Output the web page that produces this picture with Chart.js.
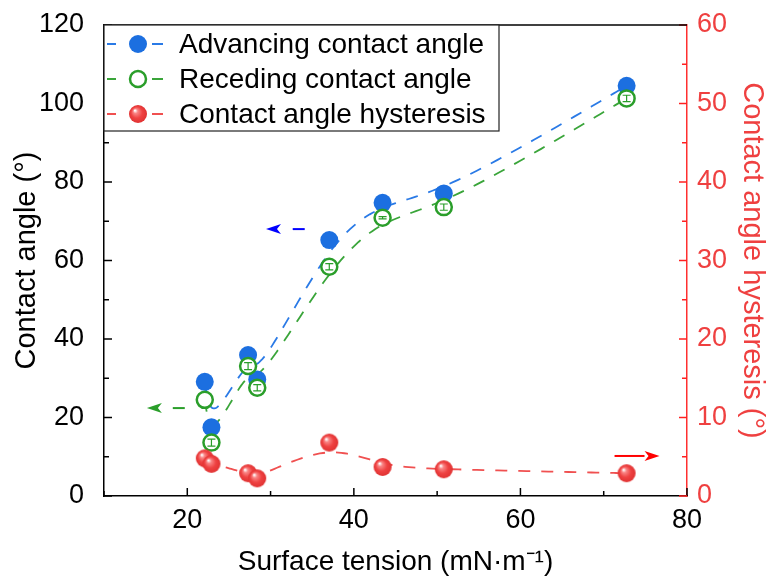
<!DOCTYPE html>
<html>
<head>
<meta charset="utf-8">
<script src="https://cdn.jsdelivr.net/npm/chart.js@4.4.1/dist/chart.umd.min.js"></script>
<style>
  html, body { margin: 0; padding: 0; background: #fff; }
  #wrap { width: 768px; height: 578px; }
</style>
</head>
<body>
<div id="wrap"><canvas id="chart"></canvas></div>
<script>
// surface tension of each liquid (mN/m), sorted ascending
const tension = [22.1, 22.9, 27.3, 28.4, 37.05, 43.45, 50.8, 72.75];
const advancing = [29.1, 17.5, 35.9, 29.7, 65.2, 74.7, 77.1, 104.5];
const receding = [24.5, 13.6, 33.1, 27.6, 58.4, 70.9, 73.6, 101.3];
const recedingErr = [0, 0.9, 0.9, 0.8, 0.8, 0.3, 0.8, 0.8];
const hysteresis = [4.8, 4.1, 2.9, 2.25, 6.8, 3.7, 3.4, 2.9];

const seriesNames = ['Advancing contact angle', 'Receding contact angle', 'Contact angle hysteresis'];

// axis pointers: [xTail, yTail, xTip, yTip] in data units
const arrowAdv = [34.1, 68, 29.45, 68];
const arrowRec = [19.7, 22.4, 15.15, 22.4];
const arrowHys = [71.3, 5.1, 76.7, 5.1];

const FONT = "'Liberation Sans', Arial, sans-serif";
const BLUE = '#1c6fe0';
const GREEN = '#2a9e2a';
const RED = '#ef4040';

function sphere(r) {
  const c = document.createElement('canvas');
  const s = Math.ceil(r * 2 + 2);
  c.width = c.height = s;
  const g = c.getContext('2d');
  const cx = s / 2, cy = s / 2;
  const grad = g.createRadialGradient(cx - r * 0.35, cy - r * 0.4, r * 0.05, cx, cy, r);
  grad.addColorStop(0, '#ffffff');
  grad.addColorStop(0.22, '#f98484');
  grad.addColorStop(0.6, '#ef4242');
  grad.addColorStop(1, '#e03232');
  g.fillStyle = grad;
  g.beginPath();
  g.arc(cx, cy, r, 0, Math.PI * 2);
  g.fill();
  return c;
}
const ball = sphere(9);

const pts = (ys) => tension.map((x, i) => ({ x, y: ys[i] }));

// clamped uniform cubic B-spline through the control points
function bspline(ctx, p, steps) {
  const last = p[p.length - 1];
  const q = [p[0], p[0], ...p, last, last];
  ctx.beginPath();
  ctx.moveTo(p[0].x, p[0].y);
  for (let i = 0; i + 3 < q.length; i++) {
    const a = q[i], b = q[i + 1], c = q[i + 2], d = q[i + 3];
    for (let s = 1; s <= steps; s++) {
      const t = s / steps, t2 = t * t, t3 = t2 * t;
      const b0 = Math.pow(1 - t, 3) / 6;
      const b1 = (3 * t3 - 6 * t2 + 4) / 6;
      const b2 = (-3 * t3 + 3 * t2 + 3 * t + 1) / 6;
      const b3 = t3 / 6;
      ctx.lineTo(b0 * a.x + b1 * b.x + b2 * c.x + b3 * d.x, b0 * a.y + b1 * b.y + b2 * c.y + b3 * d.y);
    }
  }
  ctx.stroke();
}

const splineLines = {
  id: 'splineLines',
  beforeDatasetsDraw(chart) {
    const ctx = chart.ctx;
    ctx.save();
    chart.data.datasets.forEach((ds, i) => {
      const meta = chart.getDatasetMeta(i);
      ctx.strokeStyle = ds.lineColor;
      ctx.lineWidth = 1.8;
      ctx.setLineDash([12, 11]);
      bspline(ctx, meta.data.map((e) => ({ x: e.x, y: e.y })), 20);
    });
    ctx.restore();
  }
};

function arrow(ctx, chart, a, yId, color, dashed) {
  const xs = chart.scales.x, ys = chart.scales[yId];
  const x0 = xs.getPixelForValue(a[0]), y0 = ys.getPixelForValue(a[1]);
  const x1 = xs.getPixelForValue(a[2]), y1 = ys.getPixelForValue(a[3]);
  const dir = Math.sign(x1 - x0);
  const head = 15;
  ctx.save();
  ctx.strokeStyle = color;
  ctx.fillStyle = color;
  ctx.lineWidth = 2;
  ctx.setLineDash(dashed ? [12, 12] : []);
  ctx.beginPath();
  ctx.moveTo(x0, y0);
  ctx.lineTo(x1 - dir * head, y1);
  ctx.stroke();
  ctx.setLineDash([]);
  ctx.beginPath();
  ctx.moveTo(x1, y1);
  ctx.lineTo(x1 - dir * head, y1 - 5);
  ctx.lineTo(x1 - dir * (head - 4), y1);
  ctx.lineTo(x1 - dir * head, y1 + 5);
  ctx.closePath();
  ctx.fill();
  ctx.restore();
}

const decorations = {
  id: 'decorations',
  afterDatasetsDraw(chart) {
    const ctx = chart.ctx;
    const { left, right, top, bottom } = chart.chartArea;

    // error bars on the receding points
    const yS = chart.scales.y;
    const meta = chart.getDatasetMeta(1);
    ctx.save();
    ctx.strokeStyle = GREEN;
    ctx.lineWidth = 1.2;
    meta.data.forEach((e, i) => {
      const err = recedingErr[i];
      if (!err) return;
      const ya = yS.getPixelForValue(receding[i] + err);
      const yb = yS.getPixelForValue(receding[i] - err);
      ctx.beginPath();
      ctx.moveTo(e.x, ya); ctx.lineTo(e.x, yb);
      ctx.moveTo(e.x - 4, ya); ctx.lineTo(e.x + 4, ya);
      ctx.moveTo(e.x - 4, yb); ctx.lineTo(e.x + 4, yb);
      ctx.stroke();
    });
    ctx.restore();

    arrow(ctx, chart, arrowAdv, 'y', '#0000ff', true);
    arrow(ctx, chart, arrowRec, 'y', GREEN, true);
    arrow(ctx, chart, arrowHys, 'y1', '#ff0000', false);

    // inward tick marks
    ctx.save();
    ctx.lineWidth = 1.5;
    ctx.strokeStyle = '#000';
    chart.scales.x.ticks.forEach((t) => {
      const px = chart.scales.x.getPixelForValue(t.value);
      const len = t.value % 20 === 0 ? 8 : 5;
      ctx.beginPath(); ctx.moveTo(px, bottom); ctx.lineTo(px, bottom - len); ctx.stroke();
    });
    chart.scales.y.ticks.forEach((t) => {
      const py = chart.scales.y.getPixelForValue(t.value);
      const len = t.value % 20 === 0 ? 8 : 5;
      ctx.beginPath(); ctx.moveTo(left, py); ctx.lineTo(left + len, py); ctx.stroke();
    });
    ctx.strokeStyle = '#ff2020';
    chart.scales.y1.ticks.forEach((t) => {
      const py = chart.scales.y1.getPixelForValue(t.value);
      const len = t.value % 10 === 0 ? 8 : 5;
      ctx.beginPath(); ctx.moveTo(right, py); ctx.lineTo(right - len, py); ctx.stroke();
    });
    // top frame
    ctx.strokeStyle = '#000';
    ctx.beginPath(); ctx.moveTo(left, top); ctx.lineTo(right, top); ctx.stroke();
    ctx.restore();

    // legend box
    const lx = left, ly = top, lw = 395, lh = 106;
    ctx.save();
    ctx.fillStyle = '#fff';
    ctx.fillRect(lx, ly, lw, lh);
    ctx.strokeStyle = '#222';
    ctx.lineWidth = 1.2;
    ctx.strokeRect(lx, ly, lw, lh);
    ctx.font = '28px ' + FONT;
    ctx.textBaseline = 'middle';
    ctx.textAlign = 'left';
    const rows = [ly + 19, ly + 54, ly + 89];
    chart.data.datasets.forEach((ds, i) => {
      const cy = rows[i], mx = lx + 34;
      ctx.strokeStyle = ds.lineColor;
      ctx.lineWidth = 1.8;
      ctx.beginPath();
      ctx.moveTo(lx + 3, cy); ctx.lineTo(lx + 12, cy);
      ctx.moveTo(lx + 48, cy); ctx.lineTo(lx + 59, cy);
      ctx.stroke();
      if (i === 0) {
        ctx.fillStyle = BLUE;
        ctx.beginPath(); ctx.arc(mx, cy, 9, 0, Math.PI * 2); ctx.fill();
      } else if (i === 1) {
        ctx.fillStyle = '#fff';
        ctx.strokeStyle = GREEN;
        ctx.lineWidth = 2.5;
        ctx.beginPath(); ctx.arc(mx, cy, 8, 0, Math.PI * 2); ctx.fill(); ctx.stroke();
      } else {
        ctx.drawImage(ball, mx - ball.width / 2, cy - ball.height / 2);
      }
      ctx.fillStyle = '#000';
      ctx.fillText(ds.label, lx + 75, cy + 1);
    });
    ctx.restore();
  }
};

// fixed scale boxes so the plot area sits at 104..687 x 25..496
function fixBox(size, horizontal) {
  return (s) => {
    if (horizontal) s.height = size; else s.width = size;
    s.paddingTop = 0;
    s.paddingBottom = 0;
    s.paddingLeft = 0;
    s.paddingRight = 0;
  };
}

new Chart(document.getElementById('chart'), {
  type: 'scatter',
  data: {
    datasets: [
      {
        label: seriesNames[0],
        data: pts(advancing),
        yAxisID: 'y',
        order: 3,
        lineColor: '#2a7ae6',
        pointRadius: 9,
        pointBackgroundColor: BLUE,
        pointBorderWidth: 0
      },
      {
        label: seriesNames[1],
        data: pts(receding),
        yAxisID: 'y',
        order: 2,
        lineColor: '#3aa53a',
        pointRadius: 8,
        pointBackgroundColor: '#fff',
        pointBorderColor: GREEN,
        pointBorderWidth: 2.5
      },
      {
        label: seriesNames[2],
        data: pts(hysteresis),
        yAxisID: 'y1',
        order: 1,
        lineColor: '#f05050',
        pointStyle: ball,
        pointRadius: 9
      }
    ]
  },
  options: {
    responsive: true,
    maintainAspectRatio: false,
    animation: false,
    events: [],
    layout: { padding: { top: 25, left: 0, right: 0, bottom: 0 } },
    plugins: { legend: { display: false }, tooltip: { enabled: false } },
    scales: {
      x: {
        type: 'linear',
        min: 10,
        max: 80,
        afterFit: fixBox(82, true),
        grid: { display: false, drawTicks: false },
        border: { display: true, color: '#000', width: 1.5 },
        ticks: {
          stepSize: 10,
          autoSkip: false,
          padding: 8,
          color: '#000',
          font: { family: FONT, size: 27 },
          callback: (v) => (v % 20 === 0 ? v : '')
        },
        title: {
          display: true,
          text: 'Surface tension (mN·m⁻¹)',
          color: '#000',
          font: { family: FONT, size: 28, lineHeight: 1 },
          padding: { top: 0, bottom: 2 }
        }
      },
      y: {
        position: 'left',
        min: 0,
        max: 120,
        afterFit: fixBox(104, false),
        grid: { display: false, drawTicks: false },
        border: { display: true, color: '#000', width: 1.5 },
        ticks: {
          stepSize: 10,
          autoSkip: false,
          padding: 20,
          color: '#000',
          font: { family: FONT, size: 27 },
          callback: (v) => (v % 20 === 0 ? v : '')
        },
        title: {
          display: true,
          text: 'Contact angle (°)',
          color: '#000',
          font: { family: FONT, size: 29, lineHeight: 1 },
          padding: { top: 12, bottom: 0 }
        }
      },
      y1: {
        position: 'right',
        min: 0,
        max: 60,
        afterFit: fixBox(81, false),
        grid: { display: false, drawTicks: false },
        border: { display: true, color: '#ff3030', width: 1.5 },
        ticks: {
          stepSize: 5,
          autoSkip: false,
          padding: 10,
          color: RED,
          font: { family: FONT, size: 27 },
          callback: (v) => (v % 10 === 0 ? v : '')
        },
        title: {
          display: true,
          text: 'Contact angle hysteresis (°)',
          color: RED,
          font: { family: FONT, size: 29, lineHeight: 1 },
          padding: { top: 2, bottom: 0 }
        }
      }
    }
  },
  plugins: [splineLines, decorations]
});
</script>
</body>
</html>
